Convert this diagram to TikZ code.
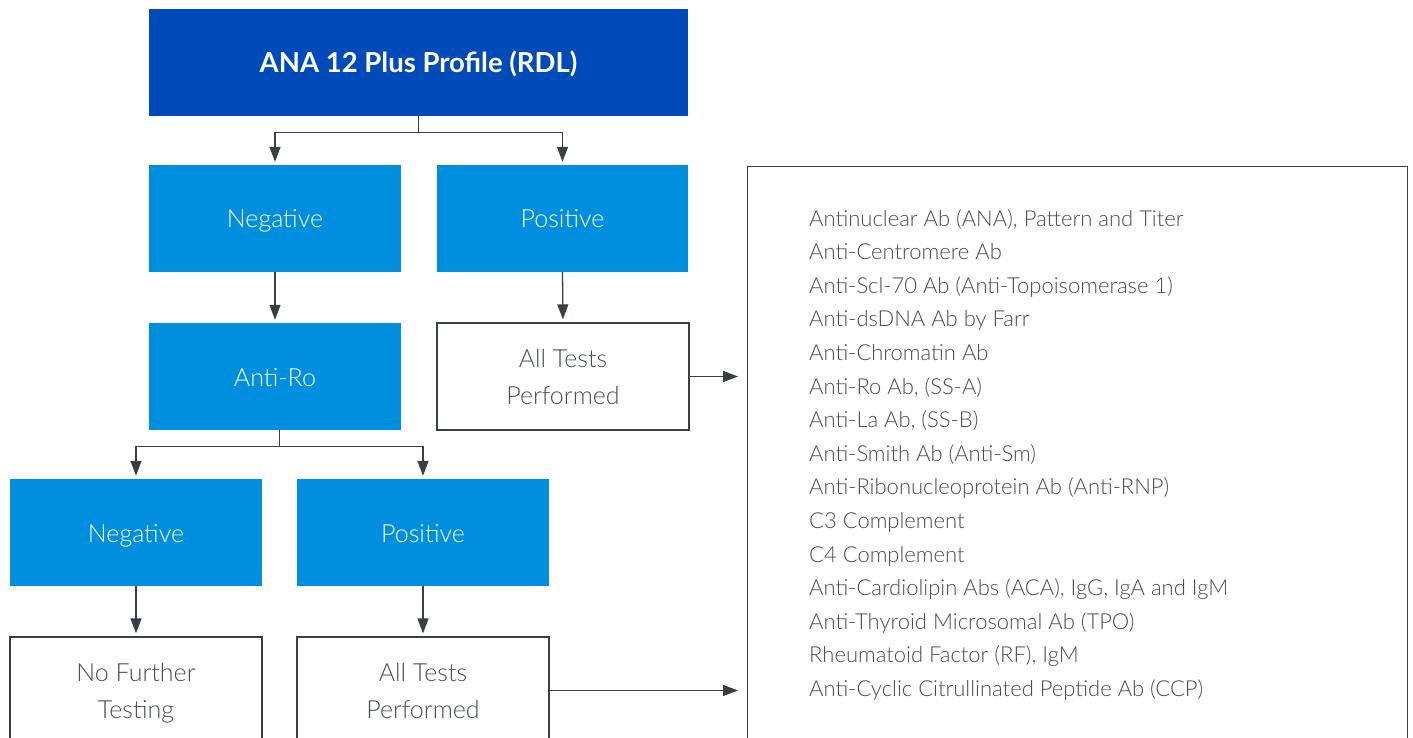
\documentclass[tikz,border=0pt]{standalone}
\usepackage{fontspec}
\setmainfont{Lato}[UprightFont={* Light},BoldFont={* Bold}]
\usetikzlibrary{arrows.meta,calc}
\definecolor{dblue}{HTML}{004BB9}
\definecolor{lblue}{HTML}{008FDF}
\definecolor{lcol}{HTML}{3A3E45}
\definecolor{tgray}{HTML}{4A4F55}
\definecolor{igray}{HTML}{4D4D4D}
\begin{document}
\begin{tikzpicture}[x=1pt,y=-1pt,
  box/.style={rectangle,inner sep=0pt,minimum width=252pt,minimum height=107pt,align=center,font=\fontsize{25}{37}\selectfont},
  bluebox/.style={box,fill=lblue,text=white,text height=19pt,text depth=0pt},
  whitebox/.style={box,draw=lcol,line width=1.3pt,fill=white,text=tgray,text depth=0pt},
  arr/.style={draw=lcol,line width=1.3pt,-{Triangle[length=15pt,width=11pt]},shorten >=3pt},
  item/.style={anchor=base west,inner sep=0pt,text=igray,font=\fontsize{22}{26}\selectfont}]
\useasboundingbox (0,0) rectangle (1413,738);
\clip (0,0) rectangle (1413,738);
\fill[white] (0,0) rectangle (1413,738);

\node[box,fill=dblue,text=white,minimum width=539pt,text height=20pt,text depth=0pt,font=\fontsize{27.5}{30}\selectfont\bfseries] (title) at (418.5,62.5) {ANA 12 Plus Profile (RDL)};
\node[bluebox] (neg1) at (275,218.5) {Negative};
\node[bluebox,minimum width=251pt] (pos1) at (562.5,218.5) {Positive};
\node[bluebox] (antiro) at (275,376.5) {Anti-Ro};
\node[whitebox] (all1) at (563,376.5) {All Tests\\Performed};
\node[bluebox] (neg2) at (136,532.5) {Negative};
\node[bluebox] (pos2) at (423,532.5) {Positive};
\node[whitebox] (nofurther) at (136,690.5) {No Further\\Testing};
\node[whitebox] (all2) at (423,690.5) {All Tests\\Performed};
\node[draw=lcol,line width=1.3pt,inner sep=0pt,minimum width=660pt,minimum height=620pt,anchor=north west] (tests) at (747,166) {};

\foreach \t [count=\i] in {
  {Antinuclear Ab (ANA), Pattern and Titer},
  {Anti-Centromere Ab},
  {Anti-Scl-70 Ab (Anti-Topoisomerase 1)},
  {Anti-dsDNA Ab by Farr},
  {Anti-Chromatin Ab},
  {Anti-Ro Ab, (SS-A)},
  {Anti-La Ab, (SS-B)},
  {Anti-Smith Ab (Anti-Sm)},
  {Anti-Ribonucleoprotein Ab (Anti-RNP)},
  {C3 Complement},
  {C4 Complement},
  {Anti-Cardiolipin Abs (ACA), IgG, IgA and IgM},
  {Anti-Thyroid Microsomal Ab (TPO)},
  {Rheumatoid Factor (RF), IgM},
  {Anti-Cyclic Citrullinated Peptide Ab (CCP)}}
  \node[item] (it\i) at (809,{226+33.6*(\i-1)}) {\t};

\coordinate (s1) at ($(title.south)+(0,16)$);
\draw[arr] (title.south) -- (s1) -| (neg1.north);
\draw[arr] (s1) -| (pos1.north);
\draw[arr] (neg1.south) -- (antiro.north);
\draw[arr] (pos1.south) -- (all1.north);
\draw[arr,shorten >=9pt] (all1.east) -- (all1.east -| tests.west);

\coordinate (m2) at ($(neg2.north)!.5!(pos2.north)$);
\coordinate (s2) at ($(antiro.south -| m2)+(0,16)$);
\draw[arr] (antiro.south -| m2) -- (s2) -| (neg2.north);
\draw[arr] (s2) -| (pos2.north);
\draw[arr] (neg2.south) -- (nofurther.north);
\draw[arr] (pos2.south) -- (all2.north);
\draw[arr,shorten >=9pt] (all2.east) -- (all2.east -| tests.west);
\end{tikzpicture}
\end{document}
